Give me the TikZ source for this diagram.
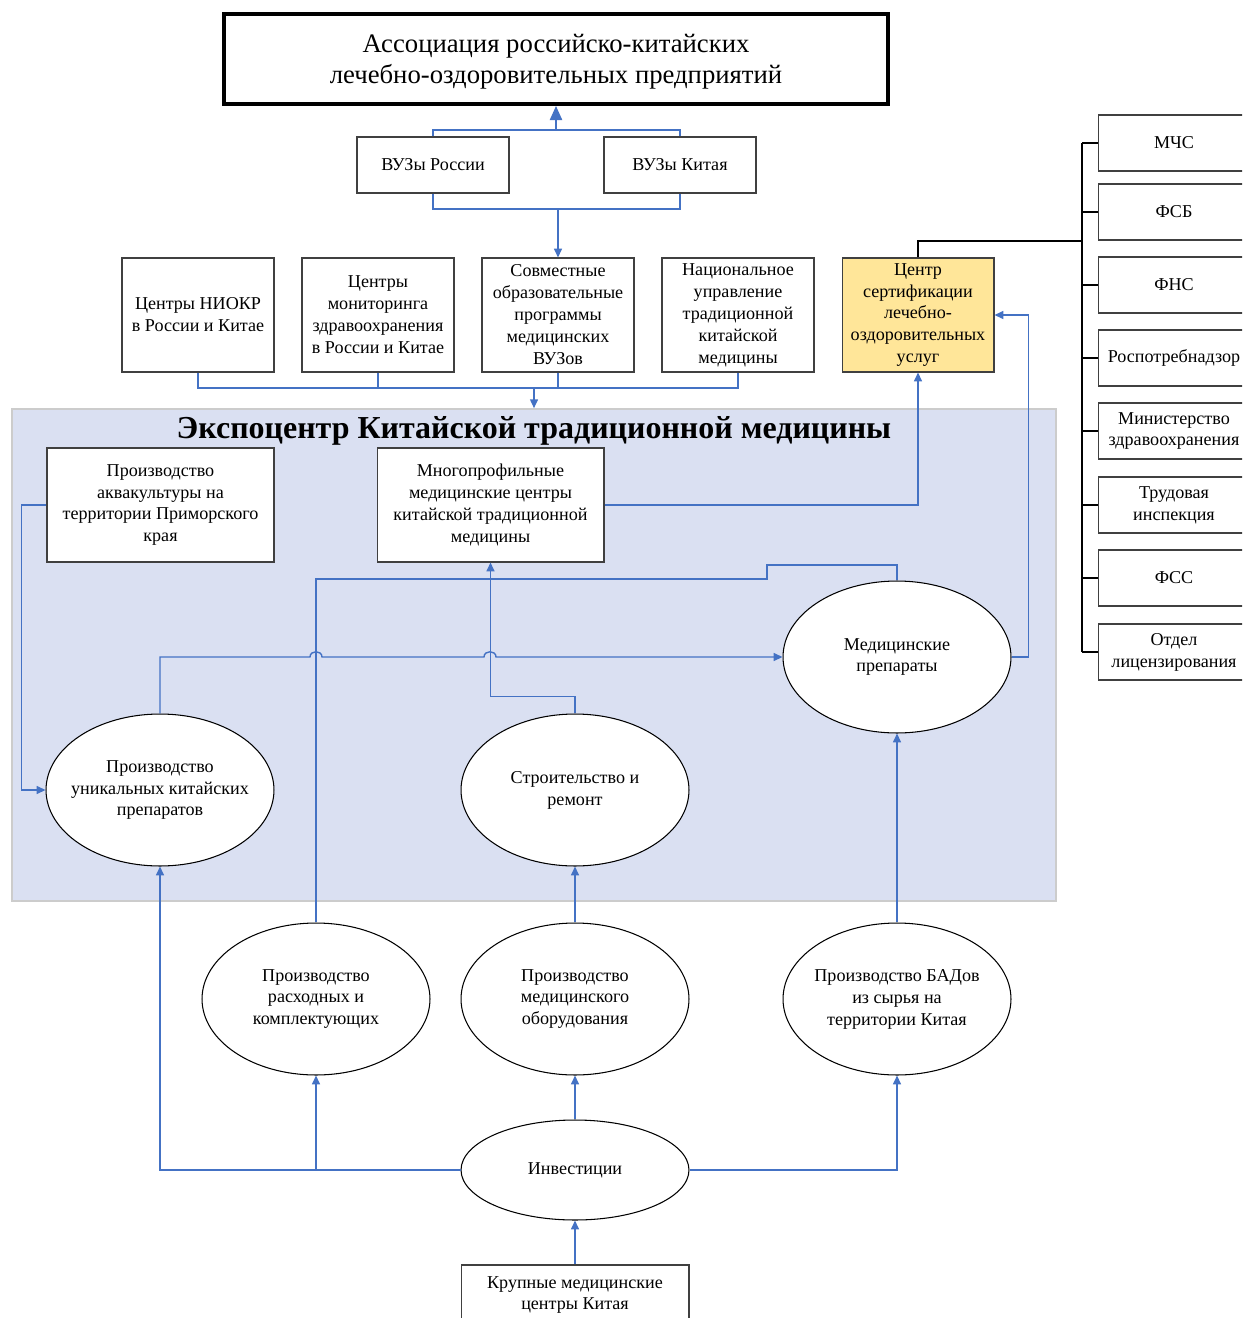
\documentclass[tikz,border=0pt]{standalone}
\usepackage{fontspec}
\setmainfont{Liberation Serif}
\usetikzlibrary{arrows.meta,shapes.geometric}
\definecolor{linkblue}{HTML}{4472C4}
\definecolor{expofill}{HTML}{DAE0F2}
\definecolor{certfill}{HTML}{FFE699}

\begin{document}
\begin{tikzpicture}[x=0.02cm,y=-0.02cm,
	box/.style={draw=black!75,line width=0.6pt,fill=white,align=center,inner sep=1pt,
		minimum width=3.04cm,minimum height=2.28cm,font=\fontsize{10.3}{12.5}\selectfont},
	smallbox/.style={box,minimum height=1.12cm},
	widebox/.style={box,minimum width=4.54cm},
	oval/.style={ellipse,draw=black,line width=0.6pt,fill=white,align=center,inner xsep=-12pt,inner ysep=0pt,
		minimum width=4.56cm,minimum height=3.04cm,font=\fontsize{10.3}{12.5}\selectfont},
	link/.style={draw=linkblue,line width=0.8pt},
	linkarrow/.style={link,-{Triangle[length=5pt,width=4.5pt]}},
	govline/.style={draw=black,line width=0.8pt}]
	\clip (0,0) rectangle (1242,1318);
	% frame of the expocentre
	\node[draw=black!20,line width=1pt,fill=expofill,minimum width=20.88cm,minimum height=9.84cm,inner sep=0pt] (expo) at (534,655) {};
	\node[font=\bfseries\fontsize{18.2}{21}\selectfont] (title) at (534,431) {Экспоцентр Китайской традиционной медицины};
	% top
	\node[draw=black,line width=2.3pt,fill=white,minimum width=13.28cm,minimum height=1.8cm] (assoc) at (556,59) {};
	\node[align=center,font=\fontsize{15.2}{17.6}\selectfont] (assoctext) at (556,62) {Ассоциация российско-китайских\\лечебно-оздоровительных предприятий};
	\node[smallbox] (vuzR) at (433,165) {ВУЗы России};
	\node[smallbox] (vuzK) at (680,165) {ВУЗы Китая};
	\node[box] (niokr) at (198,315) {Центры НИОКР\\в России и Китае};
	\node[box] (monit) at (378,315) {Центры\\мониторинга\\здравоохранения\\в России и Китае};
	\node[box] (sovm) at (558,315) {Совместные\\образовательные\\программы\\медицинских\\ВУЗов};
	\node[box] (nacup) at (738,315) {Национальное\\управление\\традиционной\\китайской\\медицины};
	\node[box,fill=certfill] (cert) at (918,315) {Центр\\сертификации\\лечебно-\\оздоровительных\\услуг};
	% inside the expocentre
	\node[widebox] (akva) at (160.5,505) {Производство\\аквакультуры на\\территории Приморского\\края};
	\node[widebox] (mnogo) at (490.5,505) {Многопрофильные\\медицинские центры\\китайской традиционной\\медицины};
	\node[oval] (med) at (897,657) {Медицинские\\препараты};
	\node[oval] (uniq) at (160,790) {Производство\\уникальных китайских\\препаратов};
	\node[oval] (stroy) at (575,790) {Строительство и\\ремонт};
	% below
	\node[oval] (rash) at (316,999) {Производство\\расходных и\\комплектующих};
	\node[oval] (obor) at (575,999) {Производство\\медицинского\\оборудования};
	\node[oval] (bad) at (897,999) {Производство БАДов\\из сырья на\\территории Китая};
	\node[oval,minimum height=2cm] (inv) at (575,1170) {Инвестиции};
	\node[box,minimum width=4.56cm,minimum height=1.2cm] (krup) at (575,1295) {Крупные медицинские\\центры Китая};
	% state bodies
	\foreach \name/\y/\txt in {mchs/143/МЧС,fsb/212/ФСБ,fns/285/ФНС,rpn/358/Роспотребнадзор,
		minzd/431/{Министерство\\здравоохранения},trud/505/{Трудовая\\инспекция},fss/578/ФСС,
		otdel/652/{Отдел\\лицензирования}}
		\node[smallbox] (\name) at (1174,\y) {\txt};

	% links
	\coordinate (top) at (556,130);
	\draw[link] (vuzR.north) |- (top) -| (vuzK.north);
	\draw[link,-{Triangle[length=8pt,width=7pt]}] (top) -- (assoc.south);
	\coordinate (vuzjoin) at (558,209);
	\draw[link] (vuzR.south) |- (vuzjoin) -| (vuzK.south);
	\draw[linkarrow] (vuzjoin) -- (sovm.north);
	\coordinate (rowjoin) at (534,388);
	\draw[link] (niokr.south) |- (rowjoin) -| (nacup.south);
	\draw[link] (monit.south) -- (monit.south |- rowjoin);
	\draw[link] (sovm.south) -- (sovm.south |- rowjoin);
	\draw[linkarrow] (rowjoin) -- (rowjoin |- expo.north);
	\draw[linkarrow] (mnogo.east) -| (cert.south);
	\draw[linkarrow] (med.east) -- ++(17,0) |- (cert.east);
	\draw[linkarrow] (stroy.north) -- ++(0,-17) -| (mnogo.south);
	\draw[linkarrow] (uniq.north) |- (310,657) .. controls (310,650) and (322,650) .. (322,657)
		-- (484,657) .. controls (484,650) and (496,650) .. (496,657) -- (med.west);
	\draw[link] (rash.north) -- (316,579) -- (767,579) -- (767,565) -| (med.north);
	\draw[linkarrow] (akva.west) -- ++(-25,0) |- (uniq.west);
	\draw[linkarrow] (bad.north) -- (med.south);
	\draw[linkarrow] (obor.north) -- (stroy.south);
	\draw[linkarrow] (inv.west) -| (uniq.south);
	\draw[linkarrow] (rash.south |- inv.west) -- (rash.south);
	\draw[linkarrow] (inv.north) -- (obor.south);
	\draw[linkarrow] (inv.east) -| (bad.south);
	\draw[linkarrow] (krup.north) -- (inv.south);
	% bus to the state bodies
	\coordinate (bus) at (1082,241);
	\draw[govline] (cert.north) |- (bus);
	\draw[govline] (bus |- mchs.west) -- (bus |- otdel.west);
	\foreach \name in {mchs,fsb,fns,rpn,minzd,trud,fss,otdel}
		\draw[govline,line width=0.6pt] (bus |- \name.west) -- (\name.west);
\end{tikzpicture}
\end{document}
